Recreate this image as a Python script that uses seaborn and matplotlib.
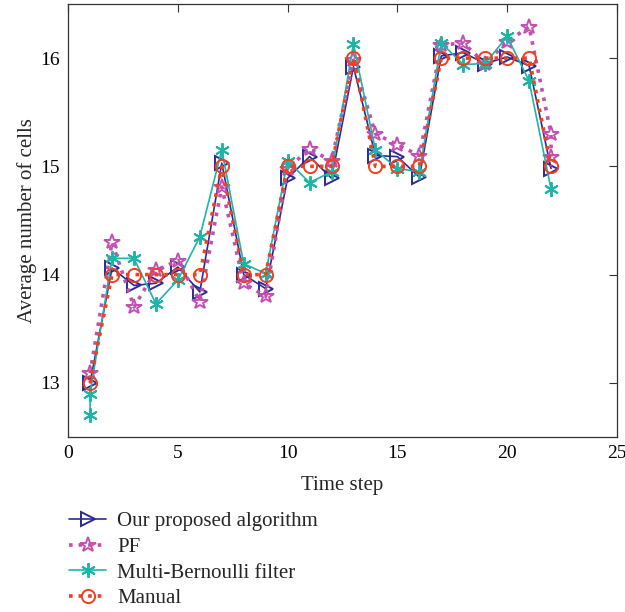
import numpy as np
import pandas as pd
import matplotlib
matplotlib.use("Agg")
import matplotlib.pyplot as plt
import seaborn as sns

# values
steps = list(range(1, 23))
ours = [13.0, 14.06, 13.9, 13.92, 14.07, 13.84, 15.03, 14.0, 13.87, 14.89, 15.09,
        14.89, 15.92, 15.1, 15.09, 14.9, 16.02, 16.05, 15.95, 16.01, 15.93, 14.98]
pf_steps = steps + [22]
pf = [13.09, 14.3, 13.7, 14.04, 14.13, 13.75, 14.81, 13.92, 13.8, 14.98, 15.16,
      15.05, 15.98, 15.3, 15.2, 15.1, 16.12, 16.14, 15.95, 16.15, 16.29, 15.3, 15.09]
mb_steps = [1] + steps
mb = [12.7, 12.9, 14.15, 14.15, 13.73, 13.95, 14.35, 15.15, 14.1, 14.01, 15.05, 14.85,
      14.95, 16.13, 15.15, 14.98, 14.95, 16.14, 15.94, 15.95, 16.2, 15.79, 14.79]
manual = [13, 14, 14, 14, 14, 14, 15, 14, 14, 15, 15, 15, 16, 15, 15, 15,
          16, 16, 16, 16, 16, 15]

sns.set_style("white")
plt.rcParams['font.family'] = ['Liberation Serif', 'DejaVu Serif']

fig = plt.figure(figsize=(6.25, 6.12), dpi=100)
ax = fig.add_axes([0.109, 0.286, 0.878, 0.7075])

asterisk = (6, 2, 0)
series = [
    ("Our proposed algorithm", steps, ours, "#2b2a96", "-", 1.2, ">", 9.5),
    ("PF", pf_steps, pf, "#c24fb1", ":", 2.6, "*", 11.5),
    ("Multi-Bernoulli filter", mb_steps, mb, "#1db5a8", "-", 1.2, asterisk, 10.5),
    ("Manual", steps, manual, "#f0401f", ":", 2.6, "o", 9.5),
]
for name, xs, ys, color, ls, lw, mk, ms in series:
    df = pd.DataFrame({"x": xs, "y": ys})
    sns.lineplot(data=df, x="x", y="y", ax=ax, estimator=None, sort=False,
                 color=color, linestyle=ls, linewidth=lw, marker=mk,
                 markersize=ms, markerfacecolor="none", markeredgecolor=color,
                 markeredgewidth=1.4, label=name)

ax.set_xlim(0, 25)
ax.set_ylim(12.5, 16.5)
ax.set_xticks([0, 5, 10, 15, 20, 25])
ax.set_yticks([13, 14, 15, 16])
ax.tick_params(direction="in", length=6, width=0.8, labelsize=14, pad=6,
               top=True, right=True, colors="#333333", labelcolor="black")
for s in ax.spines.values():
    s.set_color("#333333")
    s.set_linewidth(0.9)
ax.set_xlabel("Time step", fontsize=15, labelpad=10)
ax.set_ylabel("Average number of cells", fontsize=15, labelpad=2)

ax.legend(loc="upper left", bbox_to_anchor=(0.097, 0.178),
          bbox_transform=fig.transFigure, frameon=False, fontsize=15,
          handlelength=1.8, labelspacing=0.3, handletextpad=0.5,
          borderaxespad=0)

fig.savefig("out.png", dpi=100)
